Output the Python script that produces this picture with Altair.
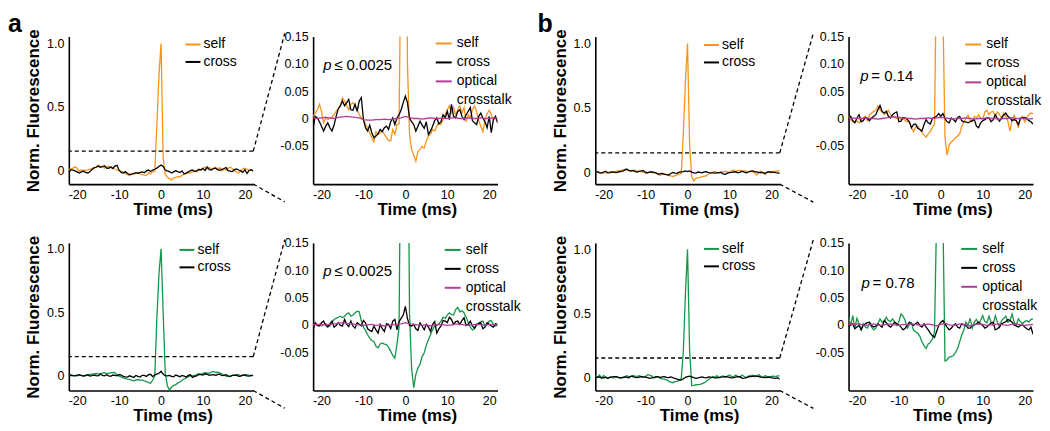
import altair as alt
import pandas as pd

FONT = "Liberation Sans"
ORANGE = "#F7941D"
GREEN = "#14964A"
MAGENTA = "#B43C9B"

# time grids (ms)
T_FINE = [round(-22 + 0.5 * k, 1) for k in range(89)]
T_COARSE = list(range(-22, 23))

# ---------------- panel a, top row (orange) ----------------
a_top_self = [0.004, 0.010, 0.016, 0.026, 0.013, -0.008, 0.002, -0.002, 0.0, 0.002,
              0.007, 0.013, 0.018, 0.024, 0.038, 0.032, 0.024, 0.016, 0.026, 0.029,
              0.023, 0.016, 0.007, 0.001, -0.002, -0.010, -0.018, -0.026, -0.035, -0.043,
              -0.024, -0.029, -0.026, -0.023, -0.029, -0.035, -0.040, -0.041, -0.020, -0.029,
              -0.011, -0.010, 0.35, 0.75, 1.0, 0.10, -0.030, -0.057, -0.067, -0.078,
              -0.060, -0.057, -0.051, -0.054, -0.041, -0.032, -0.029, -0.020, -0.023, -0.014,
              -0.008, -0.011, -0.002, 0.007, 0.016, 0.023, 0.010, 0.020, 0.007, 0.016,
              0.023, 0.010, 0.020, -0.006, 0.007, 0.001, 0.016, 0.023, 0.013, -0.004,
              -0.014, -0.024, -0.002, 0.009, 0.015, 0.007, -0.002, 0.001, -0.004]
a_top_cross = [-0.017, 0.004, 0.001, -0.006, -0.014, -0.023, -0.014, -0.008, -0.017, -0.023,
               -0.012, 0.004, 0.018, 0.023, 0.032, 0.023, 0.029, 0.035, 0.016, 0.015,
               0.026, 0.013, 0.032, 0.038, -0.002, -0.017, -0.023, -0.012, -0.026, -0.035,
               -0.032, -0.028, -0.020, -0.024, -0.017, -0.014, -0.020, -0.006, 0.001, -0.011,
               0.001, 0.007, 0.016, 0.029, 0.041, 0.029, 0.001, -0.006, -0.011, -0.023,
               -0.014, -0.005, -0.012, -0.018, -0.006, -0.029, -0.023, -0.014, -0.004, 0.001,
               -0.010, -0.006, 0.007, 0.001, 0.013, -0.002, 0.026, 0.004, 0.001, 0.013,
               0.016, 0.004, -0.002, 0.007, 0.013, 0.020, -0.004, -0.008, -0.011, 0.004,
               0.010, 0.001, -0.006, -0.017, 0.004, -0.026, -0.002, 0.004, -0.008]
a_top_opt = [0.001, 0.0, 0.001, 0.002, 0.001, 0.0, 0.002, 0.003, 0.004, 0.003,
             0.002, 0.001, -0.002, -0.003, -0.003, -0.002, -0.002, -0.001, -0.002, -0.001,
             0.0, 0.001, 0.004, 0.002, 0.0, 0.0, -0.001, 0.0, 0.001, 0.0,
             0.0, 0.001, 0.0, 0.001, 0.001, 0.0, 0.0, 0.001, 0.0, 0.0,
             0.001, 0.0, 0.0, 0.001, 0.0]

# ---------------- panel a, bottom row (green) ----------------
a_bot_self = [-0.002, 0.002, -0.001, 0.001, -0.002, 0.001, 0.002, -0.001, -0.002, 0.004,
              0.010, 0.012, 0.014, 0.016, 0.013, 0.016, 0.020, 0.022, 0.016, 0.018,
              0.022, 0.025, 0.024, 0.007, -0.004, -0.010, -0.018, -0.024, -0.029, -0.030,
              -0.039, -0.042, -0.035, -0.033, -0.035, -0.036, -0.041, -0.048, -0.056, -0.061,
              -0.035, -0.005, 0.45, 0.80, 1.0, 0.50, 0.02, -0.08, -0.115, -0.091,
              -0.079, -0.072, -0.058, -0.051, -0.037, -0.027, -0.018, -0.009, -0.002, -0.001,
              0.002, 0.007, 0.014, 0.012, 0.018, 0.022, 0.019, 0.018, 0.028, 0.032,
              0.024, 0.026, 0.022, 0.014, 0.004, -0.004, -0.009, -0.007, 0.001, 0.004,
              0.006, 0.007, -0.002, 0.001, 0.007, 0.008, 0.001, -0.002, -0.001]
a_bot_cross = [-0.009, 0.004, -0.001, -0.002, 0.004, 0.007, -0.001, -0.004, 0.002, 0.007,
               -0.004, -0.001, 0.004, -0.001, -0.002, 0.010, 0.001, -0.003, 0.007, -0.002,
               -0.006, 0.004, 0.001, -0.002, 0.008, 0.004, -0.007, -0.010, -0.012, -0.002,
               -0.009, -0.015, 0.001, -0.007, -0.012, 0.002, 0.001, -0.007, 0.007, 0.010,
               -0.009, 0.006, 0.012, 0.018, 0.034, 0.012, -0.001, -0.002, 0.001, -0.007,
               -0.010, 0.004, -0.002, -0.009, 0.001, -0.004, -0.012, 0.001, 0.006, -0.015,
               -0.007, -0.002, 0.008, 0.007, 0.004, 0.014, 0.010, 0.001, 0.006, 0.007,
               0.001, 0.008, 0.013, -0.001, 0.001, 0.007, -0.002, -0.006, 0.001, 0.002,
               0.004, -0.007, -0.004, 0.004, 0.001, -0.002, -0.004, 0.002, 0.001]
a_bot_opt = [0.0, 0.001, 0.0, 0.0, 0.001, 0.002, 0.003, 0.004, 0.003, 0.002,
             0.001, 0.0, -0.001, 0.0, 0.001, -0.001, 0.0, -0.002, -0.001, 0.0,
             0.001, 0.002, 0.004, 0.002, 0.001, 0.0, -0.001, 0.0, -0.002, 0.0,
             0.001, 0.0, -0.001, 0.0, 0.002, 0.001, 0.0, -0.001, 0.0, 0.001,
             0.0, -0.001, 0.001, 0.0, 0.0]

# ---------------- panel b, top row (orange) ----------------
b_top_self = [0.004, -0.002, -0.006, -0.006, -0.004, -0.008, -0.002, 0.001, 0.004, -0.004,
              0.007, 0.010, 0.013, 0.015, 0.023, 0.016, 0.012, 0.007, 0.010, 0.015,
              0.007, 0.004, 0.002, 0.0, 0.001, -0.002, 0.0, -0.004, -0.006, -0.006,
              -0.017, -0.024, -0.016, -0.014, -0.020, -0.026, -0.030, -0.034, -0.028, -0.024,
              -0.016, -0.011, 0.30, 0.70, 1.0, 0.20, -0.035, -0.067, -0.048, -0.043,
              -0.040, -0.035, -0.032, -0.028, -0.014, -0.006, 0.0, 0.006, -0.004, -0.006,
              0.004, 0.001, 0.007, 0.001, -0.002, 0.012, 0.015, 0.007, 0.012, 0.013,
              0.004, 0.012, 0.007, 0.001, 0.010, 0.004, -0.005, -0.023, -0.002, 0.006,
              -0.004, -0.017, 0.001, 0.004, -0.006, 0.002, 0.007, 0.010, 0.009]
b_top_cross = [-0.002, 0.004, -0.004, -0.008, 0.001, 0.007, -0.006, -0.004, 0.002, 0.0,
               -0.004, 0.001, 0.004, 0.007, 0.016, 0.024, 0.013, 0.010, 0.013, 0.004,
               0.001, 0.007, 0.010, 0.012, -0.006, -0.005, 0.002, 0.001, -0.002, -0.006,
               -0.017, -0.011, -0.010, -0.018, -0.020, -0.023, -0.011, -0.002, -0.008, -0.010,
               0.0, 0.002, 0.004, 0.009, 0.004, 0.009, 0.0, -0.006, -0.008, 0.001,
               -0.002, -0.006, 0.002, 0.004, -0.004, -0.006, -0.006, -0.008, -0.006, -0.004,
               -0.002, -0.014, -0.017, -0.008, -0.004, -0.002, 0.001, 0.001, -0.006, -0.002,
               0.007, 0.0, -0.005, 0.001, 0.006, 0.010, 0.004, 0.001, -0.004, -0.002,
               -0.004, -0.011, 0.0, 0.001, 0.002, 0.0, -0.004, -0.006, -0.010]
b_top_opt = [0.0, 0.001, 0.0, 0.0, 0.001, 0.0, 0.0, -0.001, 0.0, 0.001,
             0.002, 0.003, 0.002, 0.001, 0.0, 0.0, -0.001, 0.0, 0.0, 0.001,
             0.0, 0.001, 0.002, 0.001, 0.0, -0.001, 0.0, 0.0, 0.001, 0.0,
             -0.001, 0.0, 0.0, 0.001, 0.0, 0.0, -0.001, 0.0, 0.0, 0.001,
             0.0, 0.0, 0.0, -0.001, 0.0]

# ---------------- panel b, bottom row (green) ----------------
b_bot_self = [0.014, -0.001, 0.017, -0.006, 0.012, 0.002, -0.009, 0.002, -0.004, -0.006,
              0.004, -0.004, -0.009, -0.006, 0.002, 0.011, 0.005, 0.006, 0.014, 0.008,
              0.006, 0.011, 0.005, -0.001, 0.006, 0.020, 0.016, 0.008, -0.006, 0.0,
              0.004, -0.010, -0.013, -0.015, -0.021, -0.031, -0.038, -0.043, -0.035, -0.032,
              -0.026, -0.013, 0.20, 0.65, 1.0, 0.20, -0.066, -0.064, -0.059, -0.058,
              -0.056, -0.051, -0.043, -0.031, -0.018, -0.009, 0.005, -0.001, 0.012, -0.006,
              0.005, 0.010, 0.002, 0.008, 0.017, 0.006, 0.004, 0.016, 0.005, 0.0,
              0.017, 0.005, -0.004, 0.008, 0.012, 0.016, 0.005, 0.008, 0.020, 0.005,
              -0.001, 0.011, 0.006, 0.002, 0.006, 0.008, 0.005, 0.010, 0.011]
b_bot_cross = [-0.004, 0.0, 0.002, -0.007, -0.004, -0.001, -0.009, -0.001, 0.002, 0.004,
               0.005, -0.001, -0.004, -0.002, 0.002, -0.001, -0.004, 0.008, 0.004, -0.001,
               -0.004, 0.0, 0.005, 0.002, 0.0, -0.004, -0.009, -0.006, -0.001, 0.005,
               0.002, -0.001, 0.002, 0.005, -0.001, -0.004, 0.002, -0.004, -0.009, -0.015,
               -0.020, -0.023, -0.012, -0.001, 0.005, 0.008, 0.002, -0.004, -0.009, -0.006,
               -0.001, 0.002, -0.004, -0.006, 0.002, 0.0, -0.001, -0.006, -0.006, -0.001,
               0.0, 0.002, 0.005, 0.002, -0.001, -0.006, -0.004, 0.0, 0.004, 0.005,
               -0.009, -0.007, -0.004, 0.002, 0.004, 0.006, 0.010, 0.008, 0.005, 0.0,
               -0.002, -0.004, -0.001, 0.0, -0.004, -0.007, -0.009, -0.004, -0.017]
b_bot_opt = [0.001, 0.0, 0.002, 0.001, -0.001, 0.0, 0.002, 0.0, -0.001, 0.001,
             0.002, 0.0, -0.001, 0.001, 0.0, 0.002, 0.001, -0.001, 0.0, 0.002,
             0.0, -0.002, 0.001, 0.003, 0.0, -0.001, 0.001, 0.002, 0.0, -0.002,
             0.0, 0.002, 0.001, -0.001, 0.0, 0.001, 0.002, 0.0, -0.001, 0.001,
             0.002, 0.0, -0.001, 0.0, 0.001]

# annotation texts
P_TEXT = ["\u2264 0.0025", "\u2264 0.0025", "= 0.14", "= 0.78"]

XDOM = [-22, 22]
ZOOM_TOP = 0.15
RIGHT_YDOM = [-0.12, 0.15]
W, H = 185, 148


def make_df(self_v, cross_v, opt_v):
    return pd.DataFrame({
        "t": T_FINE + T_FINE + T_COARSE,
        "v": self_v + cross_v + opt_v,
        "series": ["self"] * len(self_v) + ["cross"] * len(cross_v) + ["optical"] * len(opt_v),
    })


def x_enc():
    return alt.X("t:Q", scale=alt.Scale(domain=XDOM, nice=False, zero=False),
                 axis=alt.Axis(values=[-20, -10, 0, 10, 20],
                               labelExpr="datum.value < 0 ? '-' + abs(datum.value) : '' + datum.value",
                               title="Time (ms)", titleX=104, titlePadding=1, labelPadding=4))


def y_enc(dom, left):
    if left:
        ax = alt.Axis(values=[0, 0.5, 1.0],
                      labelExpr="datum.value == 0 ? '0' : format(datum.value, '.1f')",
                      title="Norm. Fluorescence", titlePadding=4)
    else:
        ax = alt.Axis(values=[-0.05, 0, 0.05, 0.1, 0.15],
                      labelExpr="datum.value == 0 ? '0' : (datum.value < 0 ? '-' : '') + format(abs(datum.value), '.2f')",
                      title=None)
    return alt.Y("v:Q", scale=alt.Scale(domain=dom, nice=False, zero=False), axis=ax)


def left_panel(df, color, ydom, lx, ly, tend, label=None, label_dx=0, label_off=0):
    X = x_enc()
    Y = y_enc(ydom, True)
    col = alt.Color("series:N",
                    scale=alt.Scale(domain=["self", "cross"], range=[color, "black"]),
                    legend=alt.Legend(title=None, orient="none", legendX=lx, legendY=ly,
                                      symbolType="stroke", symbolSize=225, symbolStrokeWidth=2,
                                      labelOffset=2, rowPadding=1.5, padding=0,
                                      labelFontSize=14, labelFont=FONT, labelColor="black"))
    base = alt.Chart(df)
    lines = [base.transform_filter(f"datum.series == '{s}'")
             .mark_line(strokeWidth=1.3, clip=True).encode(x=X, y=Y, color=col)
             for s in ["self", "cross"]]
    dash = alt.Chart(pd.DataFrame({"v": [ZOOM_TOP]})).mark_rule(
        color="black", strokeDash=[4, 3], strokeWidth=1.3).encode(y=Y)
    conn_df = pd.DataFrame({
        "t": [XDOM[1], tend, XDOM[1], tend],
        "v": [ZOOM_TOP, ydom[1] + 0.025, ydom[0], ydom[0] - 0.14],
        "g": ["up", "up", "low", "low"],
    })
    conn = alt.Chart(conn_df).mark_line(color="black", strokeDash=[4, 3], strokeWidth=1.3,
                                        clip=False).encode(x=X, y=Y, detail="g:N")
    ch = alt.layer(*lines, dash, conn).properties(width=W, height=H)
    if label:
        ch = ch.properties(title=alt.Title(label, anchor="start", frame="group", fontSize=25,
                                           fontWeight="bold", font=FONT, color="black",
                                           dx=label_dx, offset=label_off, baseline="line-top",
                                           lineHeight=31))
    return ch


def right_panel(df, color, lx, ly, px, py, ptxt, indent):
    X = x_enc()
    Y = y_enc(RIGHT_YDOM, False)
    lab_expr = ("datum.label == 'crosstalk' ? '\u00a0crosstalk' : datum.label" if indent
                else "datum.label")
    col = alt.Color("series:N",
                    scale=alt.Scale(domain=["self", "cross", "optical", "crosstalk"],
                                    range=[color, "black", MAGENTA, "transparent"]),
                    legend=alt.Legend(title=None, orient="none", legendX=lx, legendY=ly,
                                      symbolType="stroke", symbolSize=256, symbolStrokeWidth=2,
                                      labelOffset=4, rowPadding=3, padding=0, labelExpr=lab_expr,
                                      labelFontSize=14, labelFont=FONT, labelColor="black"))
    base = alt.Chart(df)
    lines = [base.transform_filter(f"datum.series == '{s}'")
             .mark_line(strokeWidth=1.3, clip=True).encode(x=X, y=Y, color=col)
             for s in ["self", "cross", "optical"]]
    ann = pd.DataFrame({"t": [px], "v": [py], "p": ["p"], "rest": [ptxt]})
    p_it = alt.Chart(ann).mark_text(align="left", baseline="middle", fontSize=15, font=FONT,
                                    fontStyle="italic", color="black").encode(x=X, y=Y, text="p:N")
    p_rest = alt.Chart(ann).mark_text(align="left", baseline="middle", fontSize=15, font=FONT,
                                      dx=11, color="black").encode(x=X, y=Y, text="rest:N")
    return alt.layer(*lines, p_it, p_rest).properties(width=W, height=H)


dfs = {
    "at": make_df(a_top_self, a_top_cross, a_top_opt),
    "ab": make_df(a_bot_self, a_bot_cross, a_bot_opt),
    "bt": make_df(b_top_self, b_top_cross, b_top_opt),
    "bb": make_df(b_bot_self, b_bot_cross, b_bot_opt),
}

pa1 = left_panel(dfs["at"], ORANGE, [-0.11, 1.055], 116, -0.5, 29.5, "a", -61, -5.5)
pa2 = right_panel(dfs["at"], ORANGE, 122, -2, -19.6, 0.097, P_TEXT[0], False)
pa3 = left_panel(dfs["ab"], GREEN, [-0.118, 1.047], 110, -1.5, 29.5)
pa4 = right_panel(dfs["ab"], GREEN, 131, -2, -19.6, 0.099, P_TEXT[1], True)

pb1 = left_panel(dfs["bt"], ORANGE, [-0.093, 1.054], 108, 0, 30, "b", -58, -5.5)
pb2 = right_panel(dfs["bt"], ORANGE, 116, -1, -19.2, 0.077, P_TEXT[2], False)
pb3 = left_panel(dfs["bb"], GREEN, [-0.104, 1.049], 108, -2.5, 30)
pb4 = right_panel(dfs["bb"], GREEN, 112, -3, -18.9, 0.077, P_TEXT[3], True)

A = alt.concat(pa1, pa2, pa3, pa4, columns=2, spacing={"row": 59, "column": 60},
               bounds="flush").resolve_scale(color="independent").resolve_legend(color="independent")
B = alt.concat(pb1, pb2, pb3, pb4, columns=2, spacing={"row": 59, "column": 69},
               bounds="flush").resolve_scale(color="independent").resolve_legend(color="independent")

chart = alt.hconcat(A, B, spacing=16,
                    padding={"top": 3, "left": 0, "right": 0, "bottom": 0}).resolve_scale(
    color="independent").resolve_legend(color="independent").configure_view(
    strokeWidth=0).configure_axis(
    labelFont=FONT, titleFont=FONT, labelColor="black", titleColor="black",
    domainColor="black", domainWidth=1.6, ticks=False, tickSize=0, grid=False,
    labelFontSize=12.5, titleFontSize=17, titleFontWeight="bold",
    labelPadding=5, labelFlush=False).configure_title(font=FONT)

chart.save("out.html", embed_options={"renderer": "svg", "actions": False})
